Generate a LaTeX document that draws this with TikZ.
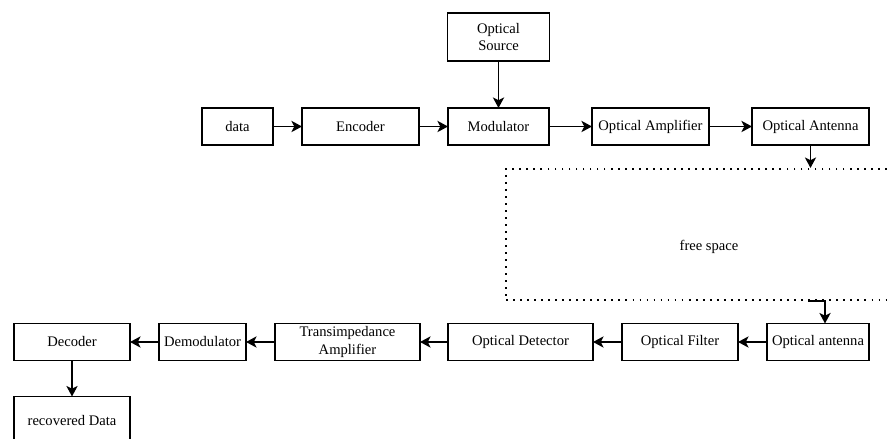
\documentclass[tikz,border=0pt]{standalone}
\usepackage{fontspec}
\setmainfont{Liberation Serif}
\usetikzlibrary{arrows.meta,positioning}

\begin{document}
\begin{tikzpicture}[
  node distance=5.8mm and 5.8mm,
  every node/.style={font=\fontsize{8.3}{9.8}\selectfont},
  block/.style={draw, line width=0.9pt, align=center, outer sep=0pt,
                minimum height=7.4mm, inner sep=1pt},
  region/.style={draw, line width=1.2pt, dash pattern=on 1pt off 3pt},
  arrow/.style={-{Stealth[length=6pt, width=6.4pt, inset=1.6pt]}, line width=0.9pt},
]
\clip (0,0) rectangle (17.8,-8.78);
% transmitter row
\node[block, minimum width=14.2mm] (data) at (4.75,-2.53) {data};
\node[block, minimum width=23.4mm, right=of data] (enc) {Encoder};
\node[block, minimum width=20.2mm, right=of enc] (mod) {Modulator};
\node[block, minimum width=23.4mm, right=8.6mm of mod] (oamp) {Optical Amplifier};
\node[block, minimum width=23.4mm, right=8.6mm of oamp] (txant) {Optical Antenna};
\node[block, minimum width=20.4mm, minimum height=9.6mm, above=9.4mm of mod] (src)
   {Optical\\Source};
% channel
\node[region, minimum width=81.2mm, minimum height=26.2mm] (space) at (14.18,-4.69) {};
\node (spacetxt) at ([yshift=-2.5mm]space.center) {free space};
% receiver row
\node[block, minimum width=20.4mm] (rxant) at (16.36,-6.84) {Optical antenna};
\node[block, minimum width=23.2mm, left=of rxant] (filt) {Optical Filter};
\node[block, minimum width=29mm, left=of filt] (det) {Optical Detector};
\node[block, minimum width=29mm, left=5.6mm of det] (tia) {Transimpedance\\Amplifier};
\node[block, minimum width=17.4mm, left=of tia] (demod) {Demodulator};
\node[block, minimum width=23.2mm, left=of demod] (dec) {Decoder};
\node[block, minimum width=23.2mm, minimum height=9.6mm, below=7.2mm of dec] (rec)
   {recovered Data};
% arrows
\draw[arrow] (data) -- (enc);
\draw[arrow] (enc) -- (mod);
\draw[arrow] (src) -- (mod);
\draw[arrow] (mod) -- (oamp);
\draw[arrow] (oamp) -- (txant);
\draw[arrow] (txant.south) -- (txant.south |- space.north);
\draw[arrow] ([xshift=-2mm]rxant.north |- space.south) -| ([xshift=1.4mm]rxant.north);
\draw[arrow] (rxant) -- (filt);
\draw[arrow] (filt) -- (det);
\draw[arrow] (det) -- (tia);
\draw[arrow] (tia) -- (demod);
\draw[arrow] (demod) -- (dec);
\draw[arrow] (dec) -- (rec);
\end{tikzpicture}
\end{document}
